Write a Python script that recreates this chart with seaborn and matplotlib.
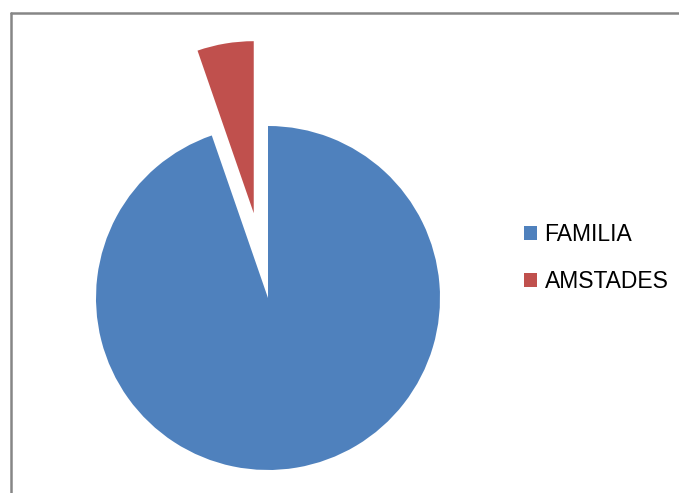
import matplotlib
matplotlib.use("Agg")
import matplotlib.pyplot as plt
import seaborn as sns
from matplotlib.lines import Line2D

sns.set_style("white")
plt.rcParams['font.family'] = ['Liberation Sans', 'DejaVu Sans']

categories = ["FAMILIA", "AMSTADES"]
values = [94.7, 5.3]
colors = ["#4F81BD", "#C0504D"]
explode = [0.0, 0.5]

W, H = 679, 493
fig = plt.figure(figsize=(W / 100, H / 100), dpi=100)

# square axes: radius ~172 px, limits +-1.5
S = 516
cx, cy = 268, H - 298
ax = fig.add_axes([(cx - S / 2) / W, (cy - S / 2) / H, S / W, S / H])
wedges, _ = ax.pie(values, colors=colors, startangle=90, counterclock=False,
                   explode=explode, radius=1.0,
                   wedgeprops=dict(linewidth=0, antialiased=True))
ax.set_xlim(-1.5, 1.5)
ax.set_ylim(-1.5, 1.5)
ax.set_aspect('equal')
ax.axis('off')

leg = fig.legend(wedges, categories, loc='upper left',
                 bbox_to_anchor=(524 / W, 1 - 223 / H),
                 frameon=False, fontsize=16.5, handlelength=0.58,
                 handleheight=0.58, handletextpad=0.32, labelspacing=1.05,
                 borderpad=0, borderaxespad=0, labelcolor="black")

# outer chart frame (only left and top visible)
fig.add_artist(Line2D([10.5 / W, 10.5 / W], [0, 1 - 12.5 / H],
                      transform=fig.transFigure, color="#868686", lw=1.8))
fig.add_artist(Line2D([10.5 / W, 1.0], [1 - 12.5 / H, 1 - 12.5 / H],
                      transform=fig.transFigure, color="#868686", lw=1.8))

fig.savefig("out.png", dpi=100)
